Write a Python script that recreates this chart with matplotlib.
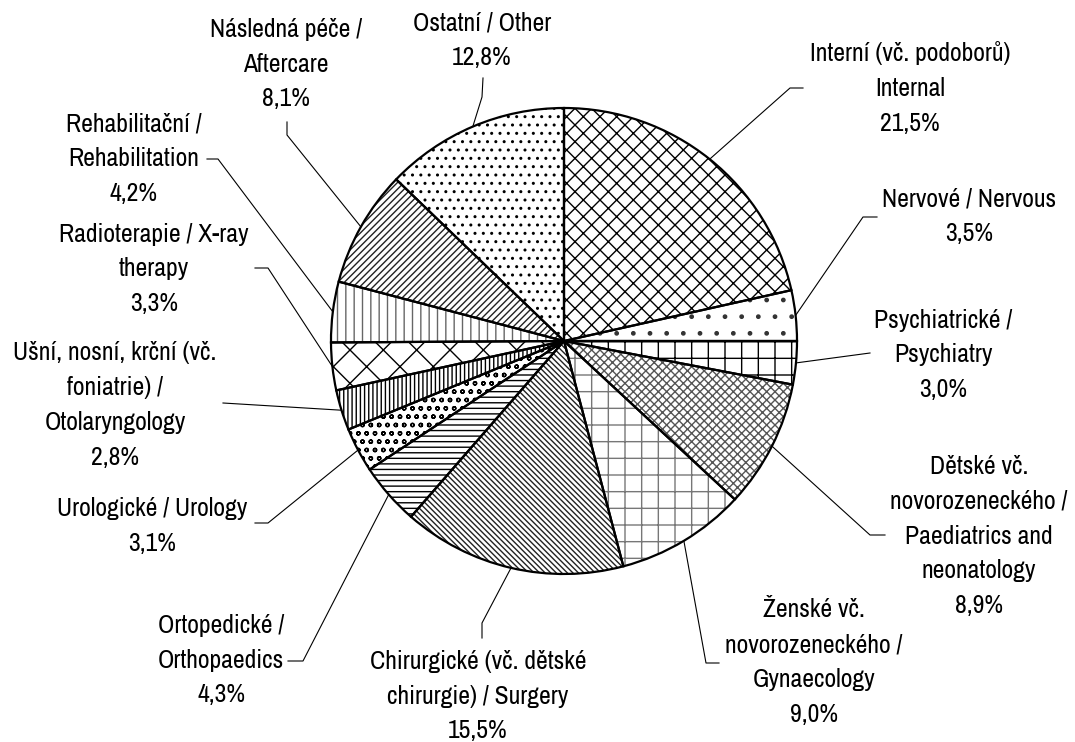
import matplotlib
matplotlib.use("Agg")
import numpy as np
from matplotlib import pyplot as plt

# hospital beds by specialisation, share in %
categories = [
    "Interní (vč. podoborů)\nInternal",
    "Nervové / Nervous",
    "Psychiatrické /\nPsychiatry",
    "Dětské vč.\nnovorozeneckého /\nPaediatrics and\nneonatology",
    "Ženské vč.\nnovorozeneckého /\nGynaecology",
    "Chirurgické (vč. dětské\nchirurgie) / Surgery",
    "Ortopedické /\nOrthopaedics",
    "Urologické / Urology",
    "Ušní, nosní, krční (vč.\nfoniatrie) /\nOtolaryngology",
    "Radioterapie / X-ray\ntherapy",
    "Rehabilitační /\nRehabilitation",
    "Následná péče /\nAftercare",
    "Ostatní / Other",
]
shares = [21.5, 3.5, 3.0, 8.9, 9.0, 15.5, 4.3, 3.1, 2.8, 3.3, 4.2, 8.1, 12.8]

hatches = ["xx", ".", "+", "xxxx", "+", "\\" * 6, "---", "oo", "||||", "x", "||", "/////", ".."]
hatch_colours = ["black", "#333333", "black", "#555555", "#777777", "#222222", "black",
                 "black", "black", "black", "#666666", "#222222", "black"]

# layout in pixels (y from the top)
W, H = 1075, 742
CX, CY, R = 564, 341, 233
label_pos = [(910, 88), (969, 216), (943, 355), (979, 536), (814, 662), (478, 696),
             (221, 660), (152, 526), (115, 405), (154, 269), (134, 159), (286, 64),
             (482, 40)]
leader_pts = [
    [(790, 88), (803, 88)],
    [(863, 217), (877, 217)],
    [(870, 353)],
    [(870, 535), (885, 535)],
    [(706, 663), (719, 663)],
    [(482, 623), (482, 638)],
    [(303, 661), (288, 661)],
    [(268, 523), (255, 523)],
    [(223, 403)],
    [(268, 268), (255, 268)],
    [(218, 159), (207, 159)],
    [(287, 135), (287, 122)],
    [(482, 97), (483, 78)],
]


def px(x, y):
    return x, H - y


plt.rcParams['font.family'] = ['Arial Narrow', 'Liberation Sans Narrow', 'Archivo Narrow',
                               'Liberation Sans', 'DejaVu Sans']
plt.rcParams['hatch.linewidth'] = 1.0

fig = plt.figure(figsize=(W / 100, H / 100), dpi=100)
ax = fig.add_axes([0, 0, 1, 1])

# hatched fills first, then the black outlines on top
wedges, _ = ax.pie(shares, startangle=90, counterclock=False, center=px(CX, CY),
                   radius=R, colors=['white'] * len(shares),
                   wedgeprops=dict(linewidth=0))
for w, h, c in zip(wedges, hatches, hatch_colours):
    w.set_hatch(h)
    w.set_edgecolor(c)
ax.pie(shares, startangle=90, counterclock=False, center=px(CX, CY), radius=R,
       wedgeprops=dict(fill=False, edgecolor='black', linewidth=1.6))

cum = np.cumsum([0] + shares[:-1])
for i, (name, val) in enumerate(zip(categories, shares)):
    theta = np.deg2rad(90 - (cum[i] + val / 2) * 3.6)
    start = (CX + R * np.cos(theta), CY - R * np.sin(theta))
    pts = [start] + leader_pts[i]
    xs = [p[0] for p in pts]
    ys = [H - p[1] for p in pts]
    ax.plot(xs, ys, color='black', lw=0.8)

    txt = name + "\n" + ("%.1f%%" % val).replace('.', ',')
    ax.text(*px(*label_pos[i]), txt, ha='center', va='center', ma='center',
            fontsize=18.5, linespacing=1.62, color='black')

ax.set_xlim(0, W)
ax.set_ylim(0, H)
ax.set_aspect('equal')
ax.axis('off')

fig.savefig('out.png', dpi=100)
